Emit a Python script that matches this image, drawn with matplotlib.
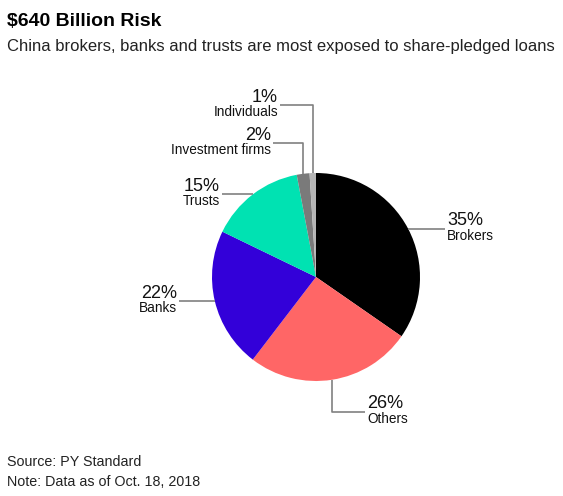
import numpy as np
import matplotlib
matplotlib.use("Agg")
import matplotlib.pyplot as plt

plt.rcParams['font.family'] = ['Liberation Sans', 'DejaVu Sans']

# data
categories = ["Brokers", "Others", "Banks", "Trusts", "Investment firms", "Individuals"]
shares = [35, 26, 22, 15, 2, 1]
colors = ["#000000", "#ff6666", "#3300d9", "#00e2b2", "#7a7a7a", "#b5b5b5"]

title = "$640 Billion Risk"
subtitle = "China brokers, banks and trusts are most exposed to share-pledged loans"
source = "Source: PY Standard"
note = "Note: Data as of Oct. 18, 2018"

W, H = 563, 496
CX, CY, R = 316, 277, 104
LINE_COLOR = "#808080"

fig = plt.figure(figsize=(W / 100, H / 100), dpi=100)
ax = fig.add_axes([0, 0, 1, 1])

# y axis is inverted below, so ccw in data = clockwise on screen
wedges, _ = ax.pie(shares, colors=colors, startangle=-90, counterclock=True,
                   center=(CX, CY), radius=R, wedgeprops=dict(linewidth=0))
ax.set_xlim(0, W)
ax.set_ylim(H, 0)
ax.set_aspect('equal')
ax.axis('off')


def edge_point(w):
    mid = np.deg2rad((w.theta1 + w.theta2) / 2)
    return CX + R * np.cos(mid), CY + R * np.sin(mid)


# mode: 'h' horizontal, 'up' goes up then left, 'down' goes down then right
layout = {
    "Brokers": dict(mode='h', end_x=445, tx=447, ha='left'),
    "Others": dict(mode='down', turn_y=412, end_x=365, tx=367, ha='left'),
    "Banks": dict(mode='h', end_x=179, tx=177, ha='right'),
    "Trusts": dict(mode='h', end_x=222, tx=220, ha='right'),
    "Investment firms": dict(mode='up', turn_y=143, end_x=273, tx=271, ha='right'),
    "Individuals": dict(mode='up', turn_y=105, end_x=280, tx=278, ha='right'),
}

for w, name, val in zip(wedges, categories, shares):
    ex, ey = edge_point(w)
    lay = layout[name]
    if lay['mode'] == 'h':
        xs, ys = [ex, lay['end_x']], [ey, ey]
        ly = ey
    else:
        xs, ys = [ex, ex, lay['end_x']], [ey, lay['turn_y'], lay['turn_y']]
        ly = lay['turn_y']
    ax.plot(xs, ys, color=LINE_COLOR, lw=1.2, solid_capstyle='butt', zorder=1)
    ax.text(lay['tx'], ly - 8, f"{val}%", ha=lay['ha'], va='center',
            fontsize=13, color="#111111")
    ax.text(lay['tx'], ly + 7, name, ha=lay['ha'], va='center',
            fontsize=9.8, color="#111111")

fig.text(7 / W, 1 - 22 / H, title, fontsize=14, fontweight='bold',
         va='center', ha='left', color="#000000")
fig.text(7 / W, 1 - 47 / H, subtitle, fontsize=12, va='center', ha='left',
         color="#222222")
fig.text(7 / W, 1 - 462 / H, source, fontsize=10.3, va='center', ha='left',
         color="#222222")
fig.text(7 / W, 1 - 482 / H, note, fontsize=10.3, va='center', ha='left',
         color="#222222")

fig.savefig("out.png", dpi=100, facecolor="white")
